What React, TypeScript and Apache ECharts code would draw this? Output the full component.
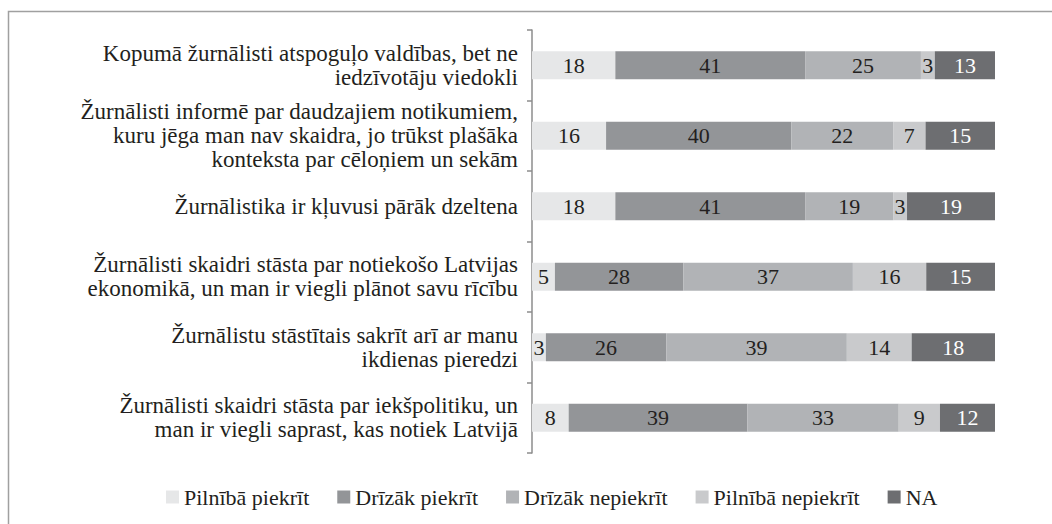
import React, { useEffect, useRef } from "react";
import * as echarts from "echarts";

const categories: string[] = [
  "Kopumā žurnālisti atspoguļo valdības, bet ne\niedzīvotāju viedokli",
  "Žurnālisti informē par daudzajiem notikumiem,\nkuru jēga man nav skaidra, jo trūkst plašāka\nkonteksta par cēloņiem un sekām",
  "Žurnālistika ir kļuvusi pārāk dzeltena",
  "Žurnālisti skaidri stāsta par notiekošo Latvijas\nekonomikā, un man ir viegli plānot savu rīcību",
  "Žurnālistu stāstītais sakrīt arī ar manu\nikdienas pieredzi",
  "Žurnālisti skaidri stāsta par iekšpolitiku, un\nman ir viegli saprast, kas notiek Latvijā",
];

const seriesNames: string[] = [
  "Pilnībā piekrīt",
  "Drīzāk piekrīt",
  "Drīzāk nepiekrīt",
  "Pilnībā nepiekrīt",
  "NA",
];

const pilnibaPiekrit: number[] = [18, 16, 18, 5, 3, 8];
const drizakPiekrit: number[] = [41, 40, 41, 28, 26, 39];
const drizakNepiekrit: number[] = [25, 22, 19, 37, 39, 33];
const pilnibaNepiekrit: number[] = [3, 7, 3, 16, 14, 9];
const na: number[] = [13, 15, 19, 15, 18, 12];

const colors: string[] = ["#e6e7e8", "#939598", "#b1b3b6", "#c9cacc", "#6d6e71"];
const labelColors: string[] = ["#231f20", "#231f20", "#231f20", "#231f20", "#ffffff"];

const FONT = "Liberation Serif";

export default function App() {
  const ref = useRef<HTMLDivElement>(null);
  useEffect(() => {
    if (!ref.current) return;
    const chart = echarts.init(ref.current, undefined, { renderer: "svg" });
    const all = [pilnibaPiekrit, drizakPiekrit, drizakNepiekrit, pilnibaNepiekrit, na];
    const totals = categories.map((_, i) => all.reduce((s, arr) => s + arr[i], 0));
    chart.setOption({
      animation: false,
      textStyle: { fontFamily: FONT },
      graphic: [
        {
          type: "rect",
          shape: { x: 8.5, y: 11.5, width: 1200, height: 800 },
          style: { fill: "none", stroke: "#a0a0a0", lineWidth: 1.5 },
          silent: true,
        },
      ],
      legend: {
        top: 481,
        left: 161,
        itemWidth: 13,
        itemHeight: 13,
        itemGap: 28,
        icon: "rect",
        textStyle: { fontFamily: FONT, fontSize: 22, color: "#231f20" },
        data: seriesNames,
      },
      grid: { left: 532, right: 57, top: 30, bottom: 71, containLabel: false },
      xAxis: {
        type: "value",
        min: 0,
        max: 100,
        show: false,
      },
      yAxis: {
        type: "category",
        inverse: true,
        data: categories,
        axisLine: { show: true, lineStyle: { color: "#8c8c8c", width: 1.5 } },
        axisTick: { show: true, length: 5, lineStyle: { color: "#8c8c8c", width: 1.5 } },
        axisLabel: {
          fontFamily: FONT,
          fontSize: 23,
          color: "#231f20",
          lineHeight: 24,
          margin: 14,
          align: "right",
        },
      },
      series: seriesNames.map((name, si) => ({
        name,
        type: "bar",
        stack: "total",
        barWidth: 28,
        itemStyle: { color: colors[si] },
        label: {
          show: true,
          position: "inside",
          fontFamily: FONT,
          fontSize: 22,
          color: labelColors[si],
          formatter: (p: any) => String(all[si][p.dataIndex]),
        },
        data: all[si].map((v, i) => (v / totals[i]) * 100),
      })),
    });
    return () => chart.dispose();
  }, []);
  return (
    <div
      ref={ref}
      style={{ position: "absolute", left: 0, top: 0, width: 1052, height: 524, background: "#fff" }}
    />
  );
}
